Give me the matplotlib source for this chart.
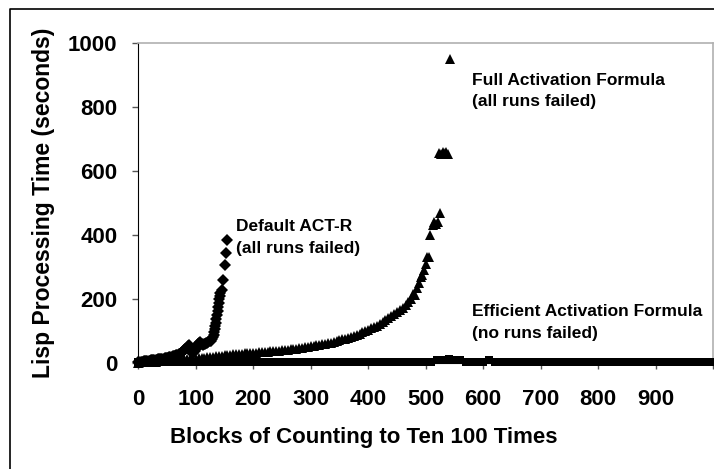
import matplotlib
matplotlib.use('Agg')
import matplotlib.pyplot as plt
from matplotlib.lines import Line2D

# Default ACT-R run times (diamonds)
default_x = list(range(0, 130, 2)) + [130, 131, 132, 133, 134, 135, 136, 137, 138, 139,
                                       140, 141, 142, 143, 145, 147, 150, 152, 154]
default_y = [2, 3, 3, 4, 4, 5, 5, 6, 6, 7, 7, 8, 8, 9, 9, 10, 10, 11, 12, 12,
             13, 14, 14, 15, 16, 17, 17, 18, 19, 20, 21, 22, 23, 24, 25, 27, 28, 30, 33, 36,
             40, 44, 48, 52, 55, 50, 40, 32, 30, 38, 45, 52, 58, 62, 65, 60, 56, 58, 60, 62,
             64, 66, 68, 70, 74,
             80, 88, 96, 105, 115, 126, 137, 150, 162, 175,
             188, 200, 210, 220, 228, 259, 306, 344, 384]

# Full activation formula run times (triangles)
full_x = list(range(0, 475, 5)) + [475, 478, 482, 485, 488, 492, 494, 497, 500, 503,
                                   505, 508, 512, 515, 518, 521, 525,
                                   524, 527, 530, 533, 536, 539, 543]
full_y = [1, 2, 2, 3, 3, 4, 4, 5, 5, 6, 7, 7, 8, 9, 9, 10, 11, 12, 12, 13,
          14, 15, 16, 17, 18, 19, 20, 21, 22, 23, 24, 25, 26, 27, 28, 28, 29, 30, 30, 31,
          32, 32, 33, 34, 34, 35, 36, 37, 38, 39, 40, 41, 42, 43, 44, 45, 46, 47, 49, 50,
          52, 53, 55, 57, 58, 60, 62, 64, 66, 69, 71, 74, 76, 79, 82, 85, 88, 92, 96, 100,
          104, 108, 112, 117, 122, 128, 134, 140, 147, 152, 158, 166, 172, 180, 190,
          200, 215, 212, 235, 250, 270, 275, 290, 310, 330,
          331, 400, 430, 440, 435, 440, 469,
          655, 652, 660, 655, 660, 652, 950]

# Efficient activation formula run times (every 10 blocks)
eff_x = list(range(0, 1001, 10))
eff_y = [2, 2, 2, 3, 3, 3, 3, 3, 3, 3, 3, 3, 3, 3, 3, 3, 3, 3, 3, 3,
         3, 3, 3, 3, 3, 3, 3, 3, 3, 3, 3, 3, 3, 3, 3, 3, 3, 3, 3, 3,
         3, 3, 3, 3, 3, 3, 3, 3, 3, 3, 3, 3, 9, 10, 11, 10, 9, 3, 3, 3,
         3, 9, 3, 3, 3, 3, 3, 3, 3, 3, 3, 3, 3, 3, 3, 3, 3, 3, 3, 3,
         3, 3, 3, 3, 3, 3, 3, 3, 3, 3, 3, 3, 3, 3, 3, 3, 3, 3, 3, 3, 3]

x_ticks = [0, 100, 200, 300, 400, 500, 600, 700, 800, 900, 1000]
x_labels = ['0', '100', '200', '300', '400', '500', '600', '700', '800', '900', '']
y_ticks = [0, 200, 400, 600, 800, 1000]

plt.rcParams['font.family'] = ['Liberation Sans', 'DejaVu Sans']
plt.rcParams['font.weight'] = 'bold'

W, H = 714, 469
fig = plt.figure(figsize=(W / 100, H / 100), dpi=100)
ax = fig.add_axes([138.3 / W, 106 / H, (713 - 138.3) / W, 320 / H])

ax.plot(eff_x, eff_y, linestyle='none', marker='s', markersize=5.4, color='black',
        markeredgewidth=0, clip_on=False, zorder=3)
ax.plot(full_x, full_y, linestyle='none', marker='^', markersize=7, color='black',
        markeredgewidth=0, clip_on=False, zorder=4)
ax.plot(default_x, default_y, linestyle='none', marker='D', markersize=6.5, color='black',
        markeredgewidth=0, clip_on=False, zorder=5)

ax.set_xlim(0, 1000)
ax.set_ylim(0, 1000)
ax.set_xticks(x_ticks)
ax.set_xticklabels(x_labels)
ax.set_yticks(y_ticks)
ax.tick_params(axis='both', direction='out', length=4, width=1, color='#555555',
               labelsize=16)
ax.tick_params(axis='x', pad=15)
ax.tick_params(axis='y', pad=11)

for s in ['top', 'right']:
    ax.spines[s].set_color('#b0b0b0')
    ax.spines[s].set_linewidth(1.2)
ax.spines['left'].set_color('black')
ax.spines['bottom'].set_color('black')

# annotations for each series
ax.text(580, 850, 'Full Activation Formula\n(all runs failed)', fontsize=12.5,
        fontweight='bold', ha='left', va='center', linespacing=1.55)
ax.text(170, 392, 'Default ACT-R\n(all runs failed)', fontsize=12.5,
        fontweight='bold', ha='left', va='center', linespacing=1.55)
ax.text(580, 127, 'Efficient Activation Formula\n(no runs failed)', fontsize=12.5,
        fontweight='bold', ha='left', va='center', linespacing=1.55)

fig.text(363.5 / W, 1 - 437 / H, 'Blocks of Counting to Ten 100 Times', fontsize=16,
         fontweight='bold', ha='center', va='center')
fig.text(44 / W, 1 - 202.5 / H, 'Lisp Processing Time (seconds)', fontsize=16.5,
         fontweight='bold', ha='center', va='center', rotation=90)

# outer chart frame (top and left edges visible)
fx = 9.5 / W
fy = 1 - 9.5 / H
fig.add_artist(Line2D([fx, fx, 1.0], [0.0, fy, fy], transform=fig.transFigure,
                      color='black', linewidth=1.2))

fig.savefig('out.png', dpi=100)
